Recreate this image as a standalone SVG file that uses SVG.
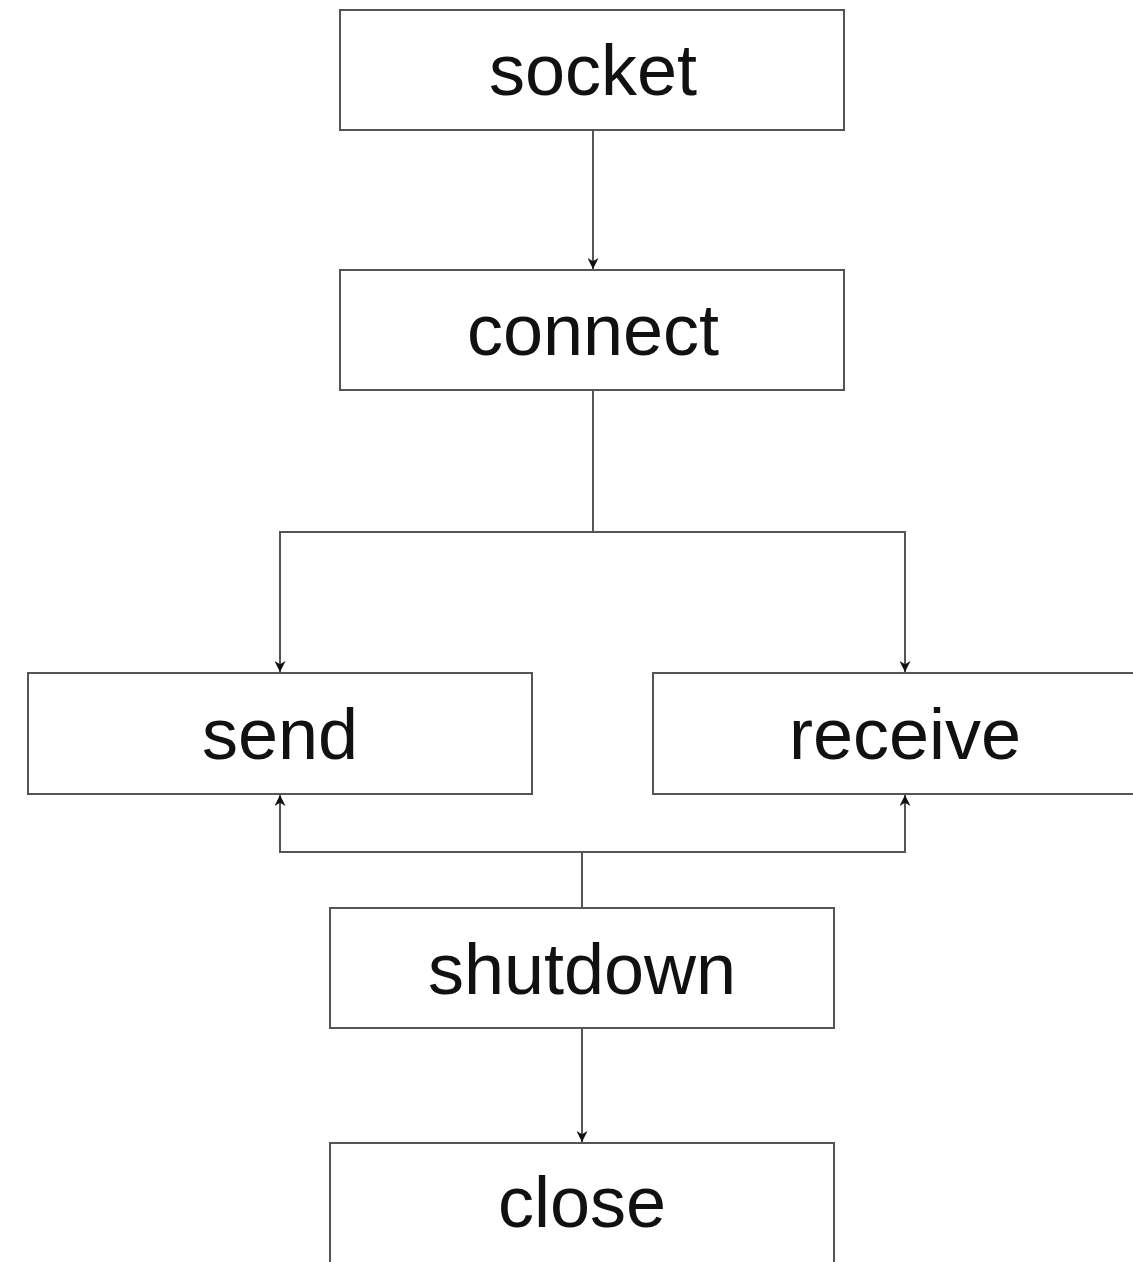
<svg xmlns="http://www.w3.org/2000/svg" width="1133" height="1262" viewBox="0 0 1133 1262">
<style>
.box{fill:#fff;stroke:#555;stroke-width:2}
.lbl{font-family:"Liberation Sans",Arial,sans-serif;font-size:72px;fill:#111;text-anchor:middle}
.con{fill:none;stroke:#555;stroke-width:2}
</style>
<defs>
<marker id="ah" viewBox="0 0 10 10" refX="10" refY="5" markerWidth="11" markerHeight="11" markerUnits="userSpaceOnUse" orient="auto">
<path d="M0,0 L10,5 L0,10 L3,5 Z" fill="#111"/>
</marker>
</defs>
<rect width="1133" height="1262" fill="#fff"/>
<g id="connectors">
<path class="con" d="M593,131 V269" marker-end="url(#ah)"/>
<path class="con" d="M593,391 V532"/>
<path class="con" d="M593,532 H280 V672" marker-end="url(#ah)"/>
<path class="con" d="M593,532 H905 V672" marker-end="url(#ah)"/>
<path class="con" d="M582,907 V852"/>
<path class="con" d="M582,852 H280 V795" marker-end="url(#ah)"/>
<path class="con" d="M582,852 H905 V795" marker-end="url(#ah)"/>
<path class="con" d="M582,1029 V1142" marker-end="url(#ah)"/>
</g>
<g id="socket"><rect class="box" x="340" y="10" width="504" height="120"/><text class="lbl" x="593" y="95">socket</text></g>
<g id="connect"><rect class="box" x="340" y="270" width="504" height="120"/><text class="lbl" x="593" y="355">connect</text></g>
<g id="send"><rect class="box" x="28" y="673" width="504" height="121"/><text class="lbl" x="280" y="759">send</text></g>
<g id="receive"><rect class="box" x="653" y="673" width="504" height="121"/><text class="lbl" x="905" y="759">receive</text></g>
<g id="shutdown"><rect class="box" x="330" y="908" width="504" height="120"/><text class="lbl" x="582" y="994">shutdown</text></g>
<g id="close"><rect class="box" x="330" y="1143" width="504" height="130"/><text class="lbl" x="582" y="1227">close</text></g>
</svg>
